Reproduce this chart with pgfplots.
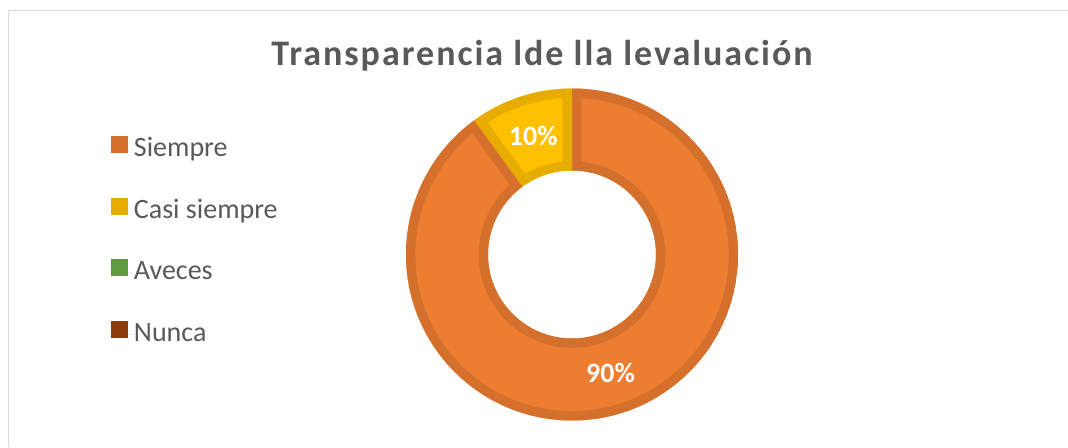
\documentclass[border=0pt]{standalone}
\usepackage{fontspec}
\setmainfont{Carlito}
\newfontfamily\titlefont[LetterSpace=5.5]{Carlito}
\usepackage{pgfplots}
\usepackage{pgfplotstable}
\pgfplotsset{compat=1.18}

\definecolor{cSiempre}{HTML}{ED7D31}
\definecolor{bSiempre}{HTML}{D4702B}
\definecolor{cCasi}{HTML}{FFC000}
\definecolor{bCasi}{HTML}{E6AD00}
\definecolor{cAveces}{HTML}{70AD47}
\definecolor{bAveces}{HTML}{5F9B3E}
\definecolor{cNunca}{HTML}{9E480E}
\definecolor{bNunca}{HTML}{8B3D0E}
\definecolor{txtgray}{HTML}{595959}
\definecolor{framegray}{HTML}{D9D9D9}

\pgfplotstableread{
label value
Siempre 90
{Casi siempre} 10
Aveces 0
Nunca 0
}\datatable

% 1 px = 0.75 pt
\newcommand\Rout{124.5pt}
\newcommand\Rin{63pt}
\newcommand\slicepath[2]{([shift={(#1:\Rout)}]C) arc[start angle=#1, end angle=#2, radius=\Rout] -- ([shift={(#2:\Rin)}]C) arc[start angle=#2, end angle=#1, radius=\Rin] -- cycle}

\begin{document}
\begin{tikzpicture}
\useasboundingbox (0,0) rectangle (801pt,335.25pt);

\pgfplotstablegetelem{0}{value}\of\datatable \let\vA\pgfplotsretval
\pgfplotstablegetelem{1}{value}\of\datatable \let\vB\pgfplotsretval
\pgfmathsetmacro\aA{90}
\pgfmathsetmacro\aB{90-3.6*\vA}
\pgfmathsetmacro\aC{\aB-3.6*\vB}
\pgfmathsetmacro\mA{(\aA+\aB)/2}
\pgfmathsetmacro\mB{(\aB+\aC)/2}

\begin{axis}[
  at={(0,0)}, anchor=origin,
  x=0.75pt, y=0.75pt,
  xmin=0, xmax=1068, ymin=0, ymax=447,
  hide axis, clip=false,
  legend style={at={(axis cs:105,314)}, anchor=north west, draw=none, fill=none,
    font=\fontsize{21}{25}\selectfont\color{txtgray}, row sep=25.6pt,
    nodes={inner sep=0pt, text height=15pt, text depth=5pt}},
  legend cell align=left,
  legend image code/.code={\fill[#1, draw=none] (1.5pt,-2.2pt) rectangle (14.3pt,10.6pt); \path (0pt,0pt) -- (18.5pt,0pt);},
]
\addlegendimage{fill=bSiempre, draw=none}
\addlegendentry{Siempre}
\addlegendimage{fill=bCasi, draw=none}
\addlegendentry{Casi siempre}
\addlegendimage{fill=bAveces, draw=none}
\addlegendentry{Aveces}
\addlegendimage{fill=bNunca, draw=none}
\addlegendentry{Nunca}

% chart frame
\draw[framegray, line width=1.1pt] (axis cs:8.5,0) -- (axis cs:8.5,436.5) -- (axis cs:1068,436.5);

\coordinate (C) at (axis cs:572,192.5);
\begin{scope}
  \clip \slicepath{\aA}{\aB};
  \fill[cSiempre] \slicepath{\aA}{\aB};
  \draw[bSiempre, line width=14pt] \slicepath{\aA}{\aB};
\end{scope}
\begin{scope}
  \clip \slicepath{\aB}{\aC};
  \fill[cCasi] \slicepath{\aB}{\aC};
  \draw[bCasi, line width=14pt] \slicepath{\aB}{\aC};
\end{scope}

\node[white, font=\fontsize{21}{25}\selectfont\bfseries] at ([shift={(\mA:93.75pt)}]C) {\vA\%};
\node[white, font=\fontsize{21}{25}\selectfont\bfseries] at ([shift={(\mB:93.75pt)}]C) {\vB\%};

\node[anchor=base, txtgray, font=\titlefont\fontsize{27}{32}\selectfont\bfseries] at (axis cs:542,381) {Transparencia lde lla levaluación};
\end{axis}
\end{tikzpicture}
\end{document}
